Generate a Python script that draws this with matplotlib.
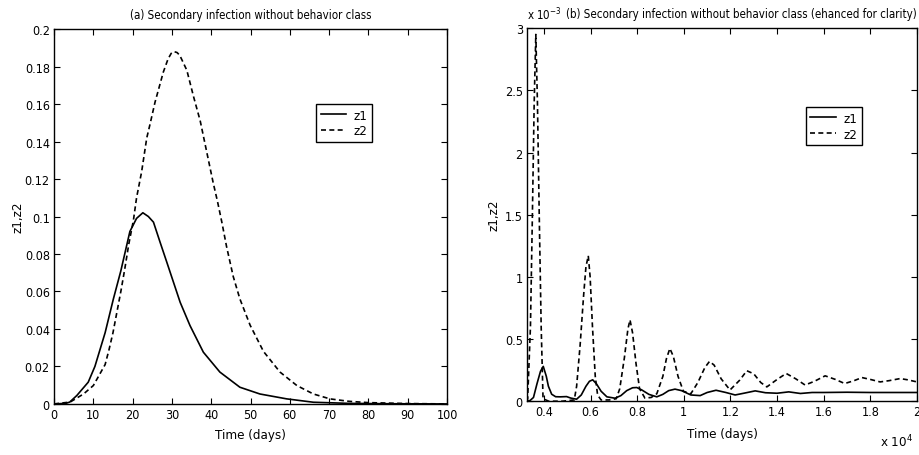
import numpy as np
import matplotlib
matplotlib.use('Agg')
import matplotlib.pyplot as plt
import matplotlib.ticker as ticker
from matplotlib import font_manager

# narrow face if one is installed, otherwise Liberation Sans
cond = [f for f in font_manager.fontManager.ttflist if 'ondensed' in f.fname or 'arrow' in f.fname]
if cond:
    plt.rcParams['font.family'] = [cond[0].name, 'DejaVu Sans']
    plt.rcParams['font.stretch'] = cond[0].stretch
else:
    plt.rcParams['font.family'] = ['Liberation Sans', 'DejaVu Sans']

#PANEL (a) DATA
t_a_z1 = [0, 3, 4, 5.8, 8.7, 10.4, 13, 15.1, 17, 19.3, 21, 22.6, 24, 25.3, 27, 28.7,
          30.4, 32.1, 34.6, 38, 42.2, 47.3, 52.4, 59.2, 66, 75, 85, 100]
z1_a = [0, 0.0003, 0.001, 0.0045, 0.0116, 0.020, 0.038, 0.056, 0.071, 0.092, 0.099, 0.102,
        0.100, 0.097, 0.0862, 0.0756, 0.0649, 0.0542, 0.0418, 0.0276, 0.017, 0.0089,
        0.0053, 0.0027, 0.0009, 0.0003, 0.0001, 0]

t_a_z2 = [0, 4.1, 7.5, 10, 13, 14, 15, 16, 17, 18, 19, 20.2, 21, 22.3, 23.6, 24.4, 25.7,
          27.8, 29, 29.8, 30.5, 31.3, 32, 33.8, 35.5, 37.2, 38.9, 40.5, 41.6, 42.7, 43.9,
          45.6, 47.3, 49.9, 53.3, 57.5, 61.8, 66, 70.2, 75, 80, 90, 100]
z2_a = [0, 0.001, 0.0053, 0.0098, 0.021, 0.029, 0.038, 0.049, 0.060, 0.072, 0.085, 0.098,
        0.110, 0.124, 0.142, 0.149, 0.161, 0.177, 0.184, 0.187, 0.188, 0.1875, 0.186,
        0.178, 0.164, 0.151, 0.134, 0.118, 0.108, 0.097, 0.084, 0.068, 0.056, 0.042,
        0.028, 0.017, 0.0098, 0.0053, 0.0027, 0.0014, 0.0007, 0.0002, 0]

#PANEL (b) DATA - days, values in units of 1e-3
t_b_z1 = [3270, 3400, 3550, 3700, 3850, 3970, 4100, 4190, 4330, 4500, 4700, 4970, 5150,
          5400, 5600, 5800, 5950, 6090, 6250, 6450, 6700, 7050, 7300, 7550, 7800, 7980,
          8200, 8500, 8840, 9100, 9350, 9620, 9900, 10300, 10700, 11000, 11380, 11800,
          12200, 12600, 13060, 13500, 14000, 14500, 15000, 15500, 16000, 17000, 18000,
          19000, 20000]
z1_b = [0, 0.005, 0.03, 0.14, 0.24, 0.28, 0.20, 0.12, 0.056, 0.036, 0.035, 0.037, 0.025,
        0.016, 0.05, 0.12, 0.16, 0.172, 0.14, 0.08, 0.035, 0.024, 0.045, 0.085, 0.108,
        0.11, 0.09, 0.055, 0.035, 0.055, 0.085, 0.097, 0.085, 0.05, 0.045, 0.07, 0.088,
        0.07, 0.05, 0.065, 0.083, 0.068, 0.064, 0.075, 0.062, 0.07, 0.07, 0.072, 0.07,
        0.07, 0.07]

t_b_z2 = [3270, 3300, 3420, 3500, 3580, 3650, 3720, 3800, 3880, 3960, 4200, 4800, 5300,
          5400, 5550, 5700, 5800, 5900, 5980, 6080, 6200, 6300, 6450, 6800, 7100, 7250,
          7450, 7600, 7690, 7800, 7950, 8100, 8330, 8600, 8840, 9100, 9250, 9400, 9550,
          9750, 9980, 10300, 10600, 10900, 11100, 11300, 11600, 11980, 12400, 12700,
          13000, 13300, 13560, 14000, 14390, 14800, 15200, 15600, 16060, 16500, 16900,
          17300, 17640, 18000, 18420, 18800, 19280, 19600, 20000]
z2_b = [0, 0.02, 0.6, 1.46, 2.4, 2.95, 2.4, 1.46, 0.6, 0.02, 0, 0, 0.01, 0.12, 0.45, 0.85,
        1.08, 1.17, 1.0, 0.6, 0.2, 0.05, 0.01, 0.01, 0.02, 0.1, 0.35, 0.58, 0.654, 0.55,
        0.3, 0.1, 0.025, 0.03, 0.06, 0.2, 0.34, 0.424, 0.36, 0.2, 0.08, 0.06, 0.15, 0.27,
        0.32, 0.29, 0.18, 0.09, 0.17, 0.245, 0.22, 0.15, 0.115, 0.175, 0.223, 0.18, 0.13,
        0.16, 0.204, 0.175, 0.142, 0.165, 0.19, 0.175, 0.155, 0.165, 0.182, 0.172, 0.155]

fig = plt.figure(figsize=(9.19, 4.56), dpi=100)
ax1 = fig.add_axes([0.0588, 0.112, 0.4276, 0.822])
ax2 = fig.add_axes([0.5734, 0.118, 0.4244, 0.818])

dash = (0, (3, 2))
narrow = bool(cond)
fs_tick = 9 if narrow else 8
fs_lab = 9.5 if narrow else 8.5
fs_t = 8.3 if narrow else 7.2

leg_kw = dict(loc='upper left', fontsize=fs_lab, frameon=True, fancybox=False,
              edgecolor='black', framealpha=1, handlelength=1.9, borderpad=0.35,
              labelspacing=0.2, handletextpad=0.6, borderaxespad=0)

#PANEL (a)
ax1.plot(t_a_z1, z1_a, color='black', lw=1.2, label='z1')
ax1.plot(t_a_z2, z2_a, color='black', lw=1.2, linestyle=dash, label='z2')
ax1.set_xlim(0, 100)
ax1.set_ylim(0, 0.2)
ax1.xaxis.set_major_locator(ticker.MultipleLocator(10))
ax1.yaxis.set_major_locator(ticker.MultipleLocator(0.02))
ax1.yaxis.set_major_formatter(ticker.FuncFormatter(lambda v, p: f'{round(v, 3):g}'))
ax1.set_xlabel('Time (days)', fontsize=fs_lab, labelpad=5)
ax1.set_ylabel('z1,z2', fontsize=fs_lab, labelpad=0)
ax1.set_title('(a) Secondary infection without behavior class', fontsize=fs_t, pad=8)
ax1.legend(bbox_to_anchor=(0.667, 0.80), **leg_kw)

#PANEL (b)
ax2.plot(t_b_z1, z1_b, color='black', lw=1.2, label='z1')
ax2.plot(t_b_z2, z2_b, color='black', lw=1.2, linestyle=dash, label='z2')
ax2.set_xlim(3270, 20000)
ax2.set_ylim(0, 3)
ax2.xaxis.set_major_locator(ticker.FixedLocator(np.arange(4000, 20001, 2000)))
ax2.xaxis.set_major_formatter(ticker.FuncFormatter(lambda v, p: f'{v / 1e4:g}'))
ax2.yaxis.set_major_locator(ticker.MultipleLocator(0.5))
ax2.yaxis.set_major_formatter(ticker.FuncFormatter(lambda v, p: f'{v:g}'))
ax2.set_xlabel('Time (days)', fontsize=fs_lab, labelpad=6)
ax2.set_ylabel('z1,z2', fontsize=fs_lab, labelpad=3)
ax2.set_title('(b) Secondary infection without behavior class (ehanced for clarity)',
              fontsize=fs_t, pad=8, loc='right')
ax2.text(0.0, 1.015, 'x 10$^{-3}$', transform=ax2.transAxes, fontsize=fs_t,
         ha='left', va='bottom')
ax2.text(0.99, -0.085, 'x 10$^{4}$', transform=ax2.transAxes, fontsize=fs_lab,
         ha='right', va='top')
ax2.legend(bbox_to_anchor=(0.715, 0.788), **leg_kw)

for ax in (ax1, ax2):
    ax.tick_params(direction='in', length=4, width=0.8, top=True, right=True,
                   labelsize=fs_tick, pad=3)
    for s in ax.spines.values():
        s.set_linewidth(1.0)

fig.savefig('out.png', dpi=100)
